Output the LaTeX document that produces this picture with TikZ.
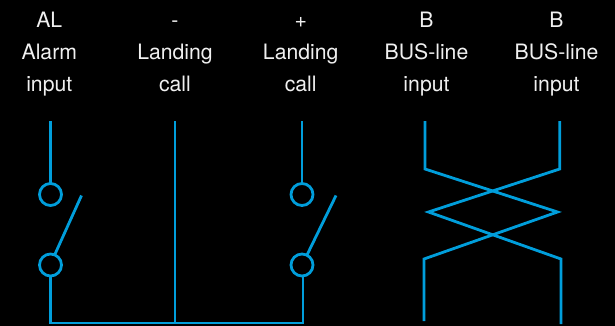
\documentclass[tikz,border=0pt]{standalone}
\usepackage{fontspec}
\setmainfont{TeX Gyre Heros}
\definecolor{wire}{RGB}{0,158,219}
\tikzset{
  wireline/.style={draw=wire,line width=2.8pt,line join=miter},
  contact/.style={circle,draw=wire,line width=2.8pt,inner sep=0pt,minimum size=22pt,outer sep=0pt},
  lab/.style={text=white!94!black,font=\fontsize{21.2}{32}\selectfont,align=center,inner sep=0pt,anchor=base}
}
\begin{document}
\begin{tikzpicture}[x=1pt,y=-1pt]
\fill[black] (0,0) rectangle (615,326);
\useasboundingbox (0,0) rectangle (615,326);
% labels
\foreach \nm/\cx/\a/\b/\c in {la/49.3/AL/Alarm/input,lb/175/-/Landing/call,lc/300.7/+/Landing/call,ld/426.5/B/BUS-line/input,le/556.5/B/BUS-line/input}{
  \node[lab] (\nm1) at (\cx,27.5) {\a};
  \node[lab] (\nm2) at (\cx,59.5) {\b};
  \node[lab] (\nm3) at (\cx,91.5) {\c};
}
% contacts
\node[contact] (a1) at (50.5,194.5) {};
\node[contact] (a2) at (50.5,265) {};
\node[contact] (c1) at (302,194.5) {};
\node[contact] (c2) at (302,265) {};
% free ends
\coordinate (atop) at (50.5,121);
\coordinate (btop) at (175,121);
\coordinate (ctop) at (302,121);
\coordinate (abot) at (50.5,323);
\coordinate (bbot) at (175,323);
\coordinate (cbot) at (303,323);
\coordinate (asw) at (81.5,195.5);
\coordinate (csw) at (336,195.5);
\draw[wireline] (atop) -- (a1);
\draw[wireline] (ctop) -- (c1);
\draw[wireline] (btop) -- (bbot);
\draw[wireline] (a2.south) -- (abot) -- (cbot) -- (cbot |- c2.south);
\draw[wireline] (a2) ++(4.2,-10.2) -- (asw);
\draw[wireline] (c2) ++(5,-10) -- (csw);
% crossing bus lines
\coordinate (d0) at (425,121);
\coordinate (d1) at (425,169);
\coordinate (d2) at (557.5,212);
\coordinate (d3) at (424,259);
\coordinate (d4) at (424,321);
\coordinate (e0) at (559.7,121);
\coordinate (e1) at (559.7,169);
\coordinate (e2) at (428.5,212);
\coordinate (e3) at (561,259);
\coordinate (e4) at (561,324);
\draw[wireline] (d0) -- (d1) -- (d2) -- (d3) -- (d4);
\draw[wireline] (e0) -- (e1) -- (e2) -- (e3) -- (e4);
\end{tikzpicture}
\end{document}
